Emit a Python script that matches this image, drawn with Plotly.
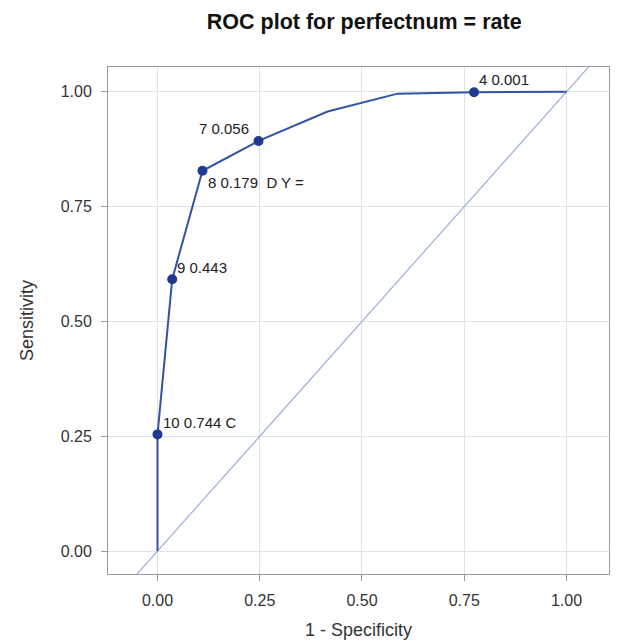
import plotly.graph_objects as go

# ROC curve (1 - specificity, sensitivity)
fpr = [0.0, 0.0, 0.036, 0.110, 0.247, 0.416, 0.587, 0.774, 1.0]
tpr = [0.0, 0.254, 0.592, 0.828, 0.893, 0.957, 0.996, 0.999, 1.0]

# labelled cut points
pt_x = [0.774, 0.247, 0.110, 0.036, 0.0]
pt_y = [0.999, 0.893, 0.828, 0.592, 0.254]
pt_labels = ["4 0.001", "7 0.056", "8 0.179\u00a0\u00a0D Y =", "9 0.443", "10 0.744 C"]

diag = [-0.2, 1.2]

FONT = "Liberation Sans, Arial"

fig = go.Figure()
fig.add_trace(go.Scatter(x=diag, y=diag, mode="lines",
                         line=dict(color="#A4B3DA", width=1.3), hoverinfo="skip"))
fig.add_trace(go.Scatter(x=fpr, y=tpr, mode="lines",
                         line=dict(color="#3253A6", width=2)))
fig.add_trace(go.Scatter(x=pt_x, y=pt_y, mode="markers",
                         marker=dict(color="#1F3A8F", size=10)))

offsets = [
    dict(xanchor="left", xshift=3, yshift=13),
    dict(xanchor="right", xshift=-8, yshift=12),
    dict(xanchor="left", xshift=4, yshift=-12),
    dict(xanchor="left", xshift=3, yshift=12),
    dict(xanchor="left", xshift=4, yshift=12),
]
for x, y, t, o in zip(pt_x, pt_y, pt_labels, offsets):
    fig.add_annotation(x=x, y=y, text=t, showarrow=False, yanchor="middle",
                       font=dict(family=FONT, size=15, color="#222"), **o)

axis_common = dict(
    showgrid=True, gridcolor="#E1E1E8", gridwidth=1, zeroline=False,
    showline=True, linecolor="#9A9A9A", linewidth=1, mirror=True,
    ticks="outside", ticklen=6, tickcolor="#9A9A9A",
    tickfont=dict(family=FONT, size=16, color="#333"),
    tickvals=[0, 0.25, 0.5, 0.75, 1.0], ticktext=["0.00", "0.25", "0.50", "0.75", "1.00"],
    automargin=False,
)

fig.update_layout(
    width=611, height=633,
    margin=dict(l=100, r=10, t=59, b=67),
    paper_bgcolor="white", plot_bgcolor="white",
    showlegend=False,
    title=dict(text="<b>ROC plot for perfectnum = rate</b>", x=0.583, xanchor="center",
               y=0.978, yanchor="middle",
               font=dict(family=FONT, size=21.5, color="#111")),
    xaxis=dict(range=[-0.121, 1.104], ticklabelstandoff=6,
               title=dict(text="1 - Specificity", standoff=15,
                          font=dict(family=FONT, size=18, color="#333")),
               **axis_common),
    yaxis=dict(range=[-0.05, 1.054], ticklabelstandoff=6,
               title=dict(text="Sensitivity", standoff=22,
                          font=dict(family=FONT, size=18, color="#333")),
               **axis_common),
)

fig.write_html("out.html")
